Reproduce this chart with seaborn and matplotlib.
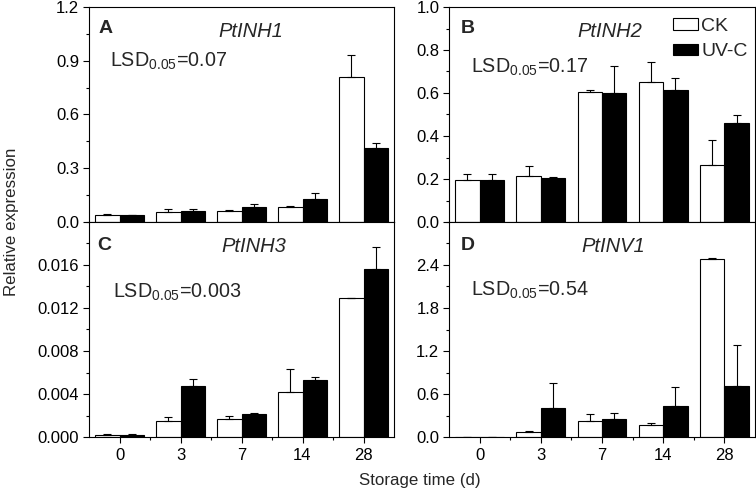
import numpy as np
import pandas as pd
import matplotlib
matplotlib.use("Agg")
import matplotlib.pyplot as plt
import seaborn as sns
from matplotlib.ticker import FixedLocator, MultipleLocator, FormatStrFormatter

sns.set_theme(style="ticks")
plt.rcParams["font.family"] = ["Liberation Sans", "DejaVu Sans"]
plt.rcParams["mathtext.fontset"] = "custom"
plt.rcParams["mathtext.rm"] = "Liberation Sans"
plt.rcParams["mathtext.it"] = "Liberation Sans:italic"

days = ["0", "3", "7", "14", "28"]
treatments = ["CK", "UV-C"]

# PtINH1
inh1_ck = [0.037, 0.056, 0.060, 0.086, 0.812]
inh1_ck_err = [0.009, 0.019, 0.008, 0.004, 0.122]
inh1_uv = [0.037, 0.060, 0.086, 0.131, 0.415]
inh1_uv_err = [0.004, 0.011, 0.013, 0.029, 0.026]

# PtINH2
inh2_ck = [0.194, 0.216, 0.603, 0.650, 0.264]
inh2_ck_err = [0.031, 0.045, 0.013, 0.095, 0.119]
inh2_uv = [0.194, 0.205, 0.602, 0.614, 0.459]
inh2_uv_err = [0.031, 0.006, 0.125, 0.058, 0.039]

# PtINH3
inh3_ck = [0.0002, 0.00148, 0.00172, 0.00422, 0.01292]
inh3_ck_err = [0.0001, 0.00037, 0.00022, 0.00215, 0.00002]
inh3_uv = [0.00018, 0.00474, 0.00218, 0.00526, 0.0156]
inh3_uv_err = [0.00007, 0.00066, 0.00004, 0.00034, 0.0021]

# PtINV1
inv1_ck = [0.005, 0.069, 0.23, 0.166, 2.48]
inv1_ck_err = [0.0, 0.014, 0.09, 0.034, 0.02]
inv1_uv = [0.005, 0.40, 0.25, 0.43, 0.706]
inv1_uv_err = [0.0, 0.35, 0.09, 0.27, 0.584]

panels = [
    ("A", "PtINH1", "0.07", inh1_ck, inh1_ck_err, inh1_uv, inh1_uv_err,
     1.2, 0.3, 1.2, "%.1f"),
    ("B", "PtINH2", "0.17", inh2_ck, inh2_ck_err, inh2_uv, inh2_uv_err,
     1.0, 0.2, 1.0, "%.1f"),
    ("C", "PtINH3", "0.003", inh3_ck, inh3_ck_err, inh3_uv, inh3_uv_err,
     0.020, 0.004, 0.016, "%.3f"),
    ("D", "PtINV1", "0.54", inv1_ck, inv1_ck_err, inv1_uv, inv1_uv_err,
     3.0, 0.6, 2.4, "%.1f"),
]

# axes boxes in pixels: left, right, top, bottom
W, H = 756, 496
boxes = {
    "A": (89, 394, 7, 222),
    "B": (449, 755, 7, 222),
    "C": (89, 394, 222, 437),
    "D": (449, 755, 222, 437),
}
text_pos = {
    # letter xy, gene xy, lsd xy (axes fraction)
    "A": ((0.030, 0.900), (0.53, 0.885), (0.068, 0.745)),
    "B": ((0.040, 0.900), (0.526, 0.885), (0.073, 0.72)),
    "C": ((0.027, 0.890), (0.54, 0.885), (0.078, 0.674)),
    "D": ((0.040, 0.890), (0.536, 0.885), (0.073, 0.684)),
}

fig = plt.figure(figsize=(W / 100, H / 100), dpi=100)

for letter, gene, lsd, ck, ck_err, uv, uv_err, ytop, ystep, ymaxtick, fmt in panels:
    l, r, t, b = boxes[letter]
    ax = fig.add_axes([l / W, (H - b) / H, (r - l) / W, (b - t) / H])

    df = pd.DataFrame({
        "day": days * 2,
        "treatment": ["CK"] * len(days) + ["UV-C"] * len(days),
        "value": ck + uv,
    })
    sns.barplot(
        data=df, x="day", y="value", hue="treatment",
        order=days, hue_order=treatments,
        palette={"CK": "white", "UV-C": "black"},
        edgecolor="black", linewidth=0.8, errorbar=None,
        legend=(letter == "B"), ax=ax,
    )

    # one-sided error bars on top of each bar
    for container, err in zip(ax.containers, [ck_err, uv_err]):
        xs, ys, es = [], [], []
        for p in container:
            xc = p.get_x() + p.get_width() / 2
            xs.append(xc)
            ys.append(p.get_height())
            es.append(err[int(round(xc))])
        ax.errorbar(xs, ys, yerr=[np.zeros(len(es)), es], fmt="none",
                    ecolor="black", elinewidth=0.8, capsize=3, capthick=0.8)

    ax.set_xlim(-0.5, 4.5)
    ax.set_ylim(0, ytop)
    ax.yaxis.set_major_locator(FixedLocator(np.arange(0, ymaxtick + ystep / 2, ystep)))
    ax.yaxis.set_minor_locator(MultipleLocator(ystep / 2))
    ax.yaxis.set_major_formatter(FormatStrFormatter(fmt))
    ax.xaxis.set_minor_locator(FixedLocator([0.5, 1.5, 2.5, 3.5]))
    ax.tick_params(which="both", direction="out", colors="black",
                   labelsize=12, width=0.8)
    ax.tick_params(which="major", length=4, pad=3)
    ax.tick_params(which="minor", length=2.5)
    if letter in ("A", "B"):
        ax.tick_params(axis="x", labelbottom=False)
    else:
        ax.tick_params(axis="x", pad=4)
    ax.set_xlabel("")
    ax.set_ylabel("")
    for s in ax.spines.values():
        s.set_color("black")
        s.set_linewidth(0.8)

    lp, gp, sp = text_pos[letter]
    ax.text(*lp, letter, transform=ax.transAxes, fontsize=14,
            fontweight="bold", va="center", ha="left")
    ax.text(*gp, gene, transform=ax.transAxes, fontsize=14.5,
            style="italic", va="center", ha="center")
    ax.text(*sp, r"LSD$_{0.05}$=" + lsd, transform=ax.transAxes,
            fontsize=14.2, va="center", ha="left")

    if letter == "B":
        sns.move_legend(ax, "upper left", bbox_to_anchor=(0.732, 0.95),
                        frameon=False, title=None, fontsize=14,
                        handlelength=1.3, handleheight=0.55,
                        handletextpad=0.15, labelspacing=0.45,
                        borderaxespad=0, borderpad=0)

fig.text(12 / W, (H - 222) / H, "Relative expression", rotation=90,
         ha="center", va="center", fontsize=12.2)
fig.text(420 / W, (H - 480) / H, "Storage time (d)", ha="center",
         va="center", fontsize=12.2)

fig.savefig("out.png", dpi=100)
